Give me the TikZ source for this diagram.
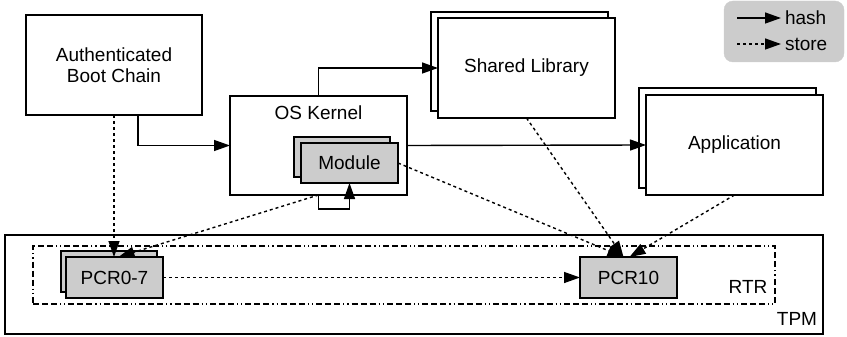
\documentclass[tikz,border=0pt]{standalone}
\usepackage{fontspec}
\setmainfont{Liberation Sans}
\usetikzlibrary{arrows.meta,calc}
\begin{document}
\begin{tikzpicture}[x=1pt,y=-1pt,
  every node/.style={font=\fontsize{19}{22}\selectfont, inner sep=0pt, outer sep=0pt},
  box/.style={draw, line width=1.3pt, fill=white, minimum width=177pt, minimum height=100pt},
  gbox/.style={draw, line width=1.3pt, fill=gray!40, minimum width=97pt, minimum height=41pt},
  hasharrow/.style={line width=1.4pt, -{Triangle[length=16pt,width=11pt]}},
  storearrow/.style={line width=1.4pt, dash pattern=on 3pt off 3pt, -{Triangle[length=16pt,width=11pt]}},
  rtrline/.style={line width=1.3pt, dash pattern=on 6pt off 3pt on 6pt off 3pt on 6pt off 3pt on 1.2pt off 3pt on 1.2pt off 3pt}
]
\useasboundingbox (0,0) rectangle (847,337);

% TPM and RTR
\node[draw, line width=1.3pt, minimum width=818pt, minimum height=99pt] (tpm) at (414,284.5) {};
\node[anchor=center] (tpmtxt) at (797,319) {TPM};
\node[rtrline, draw, minimum width=742pt, minimum height=58pt] (rtr) at (404,275) {};
\node[anchor=center] (rtrtxt) at (748,287) {RTR};

% PCRs
\node[gbox, minimum width=96pt] (pcr07b) at (109,271.5) {};
\node[gbox] (pcr07) at (114.5,277.5) {PCR0-7};
\node[gbox] (pcr10) at (628.5,277.5) {PCR10};

% Boot chain
\node[box, minimum width=176pt, align=center] (boot) at (114,65) {Authenticated\\[-1pt]Boot Chain};

% Kernel
\node[box, minimum height=99pt] (kernel) at (318.5,145.5) {};
\node (kerneltxt) at (318.5,113) {OS Kernel};
\node[gbox, minimum width=96pt, minimum height=40pt] (modb) at (342,157) {};
\node[gbox, minimum height=40pt] (mod) at (349.5,163) {Module};

% Shared library
\node[box, minimum height=99pt] (shb) at (519.5,61.5) {};
\node[box] (sh) at (526.5,68) {Shared Library};

% Application
\node[box] (appb) at (727.5,138) {};
\node[box] (app) at (734.5,145) {Application};

% Legend
\node[draw=gray!40, fill=gray!40, rounded corners=9pt, minimum width=120pt, minimum height=61pt] (legend) at (784,31.5) {};
\coordinate (h1) at (737,18);
\coordinate (h2) at (781,18);
\coordinate (s1) at (737,44);
\coordinate (s2) at (781,44);
\node[anchor=west] (hashtxt) at (785,18) {hash};
\node[anchor=west] (storetxt) at (785,44) {store};
\draw[hasharrow] (h1) -- (h2);
\draw[storearrow] (s1) -- (s2);

% hash arrows
\draw[hasharrow] ([xshift=24pt]boot.south) |- (kernel.west);
\draw[hasharrow] (kernel.north) |- (sh.west);
\draw[hasharrow] (kernel.east) -- (app.west);
\draw[hasharrow] (kernel.south) -- ++(0,14) -| (mod.south);

% store arrows
\draw[storearrow] (boot.south) -- (pcr07.north -| boot.south);
\draw[storearrow] (kernel.south) -- ([xshift=4pt]pcr07.north);
\draw[storearrow] (mod.east) -- ([xshift=-5pt]pcr10.north);
\draw[storearrow] (sh.south) -- ([xshift=-5pt]pcr10.north);
\draw[storearrow] (app.south) -- ([xshift=1pt]pcr10.north);
\draw[storearrow] (pcr07.east) -- (pcr10.west);
\end{tikzpicture}
\end{document}
